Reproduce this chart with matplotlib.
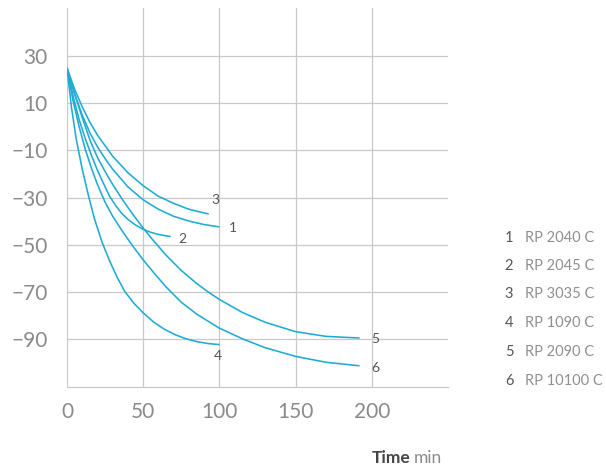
import matplotlib
matplotlib.use("Agg")
import matplotlib.pyplot as plt

# ---- data ----
labels = ["1", "2", "3", "4", "5", "6"]
models = ["RP 2040 C", "RP 2045 C", "RP 3035 C", "RP 1090 C", "RP 2090 C", "RP 10100 C"]

x1 = [0, 5, 10, 15, 20, 25, 30, 40, 50, 60, 70, 80, 90, 100]
y1 = [25, 14, 5, -2.5, -8.5, -13.5, -18, -25.5, -31, -35, -38, -40, -41.5, -42.5]

x2 = [0, 4, 8, 12, 16, 20, 25, 28, 32, 36, 40, 45, 50, 55, 60, 68]
y2 = [25, 13, 3, -5, -12, -18.5, -25.5, -29.5, -33.5, -36.8, -39.3, -41.7, -43.5, -44.8, -45.7, -46.6]

x3 = [0, 5, 10, 15, 20, 25, 30, 40, 50, 60, 70, 80, 93]
y3 = [25, 16, 8.5, 2, -3.5, -8, -12.5, -19.5, -25, -29.5, -32.5, -35, -37]

x4 = [0, 3, 6, 10, 14, 18, 23, 28, 33, 38, 44, 50, 57, 64, 71, 78, 85, 92, 100]
y4 = [25, 8, -5, -18, -29, -39, -49, -57, -64, -70, -75, -79, -83, -86, -88.3, -90, -91.2, -92, -92.5]

x5 = [0, 5, 10, 15, 20, 25, 30, 36, 43, 50, 55, 65, 75, 85, 93, 100, 115, 130, 150, 170, 192]
y5 = [25, 14, 4, -5.5, -13, -19, -24.5, -30.5, -37, -43, -47, -54.5, -61, -66.5, -70.3, -73.3, -78.8, -83, -87, -89, -89.7]

x6 = [0, 4, 8, 12, 16, 20, 25, 30, 36, 43, 50, 57, 65, 75, 85, 100, 115, 130, 150, 170, 192]
y6 = [25, 11, 0, -9.5, -17.5, -24.5, -32, -38, -44, -50.5, -56.5, -62, -68, -74.5, -79.5, -85.5, -90, -93.8, -97.5, -100, -101.5]

curve_x = [x1, x2, x3, x4, x5, x6]
curve_y = [y1, y2, y3, y4, y5, y6]

# label anchor positions (data coords)
lab_x = [109, 76, 97.5, 99, 202, 202.5]
lab_y = [-43, -47.5, -31, -97.5, -90, -102.3]

xticks = [0, 50, 100, 150, 200]
yticks = [30, 10, -10, -30, -50, -70, -90]

# ---- styling ----
LINE = "#1eabd4"
GRID = "#c9c9c9"
TICK = "#8a8a8a"
LEGTXT = "#8f8f8f"
DARK = "#555555"
FONT = ["Lato", "DejaVu Sans"]

plt.rcParams["font.family"] = FONT

fig = plt.figure(figsize=(6.06, 4.67), dpi=100)
ax = fig.add_axes([67 / 606, 1 - 387 / 467, (448 - 67) / 606, (387 - 8) / 467])

for xs, ys in zip(curve_x, curve_y):
    ax.plot(xs, ys, color=LINE, lw=1.15, solid_capstyle="butt", zorder=3)

for t, lx, ly in zip(labels, lab_x, lab_y):
    ax.text(lx, ly, t, color=DARK, fontsize=10, ha="center", va="center", zorder=4)

ax.set_xlim(0, 250)
ax.set_ylim(-110.5, 50.5)
ax.set_xticks(xticks)
ax.set_yticks(yticks)
ax.set_xticklabels([str(v) for v in xticks])
ax.set_yticklabels([str(v).replace("-", "\u2212") for v in yticks])
ax.tick_params(length=0, labelsize=15, labelcolor=TICK)
ax.tick_params(axis="x", pad=11)
ax.tick_params(axis="y", pad=14)

ax.grid(True, color=GRID, lw=0.9, zorder=0)
for s in ["top", "right", "left"]:
    ax.spines[s].set_visible(False)
ax.spines["bottom"].set_color(GRID)
ax.spines["bottom"].set_linewidth(0.9)
ax.set_axisbelow(True)

# legend list on the right
leg_y = [238, 266, 294, 323, 352, 381]
for t, m, py in zip(labels, models, leg_y):
    fig.text(509 / 606, 1 - py / 467, t, color=DARK, fontsize=10.5, ha="center", va="center")
    fig.text(525 / 606, 1 - py / 467, m, color=LEGTXT, fontsize=10.5, ha="left", va="center")

# axis title
fig.text(410 / 606, 1 - 458 / 467, "Time", color="#444444", fontsize=12.5, fontweight="bold",
         ha="right", va="center")
fig.text(414 / 606, 1 - 458 / 467, "min", color=TICK, fontsize=12.5, ha="left", va="center")

fig.savefig("out.png", dpi=100)
